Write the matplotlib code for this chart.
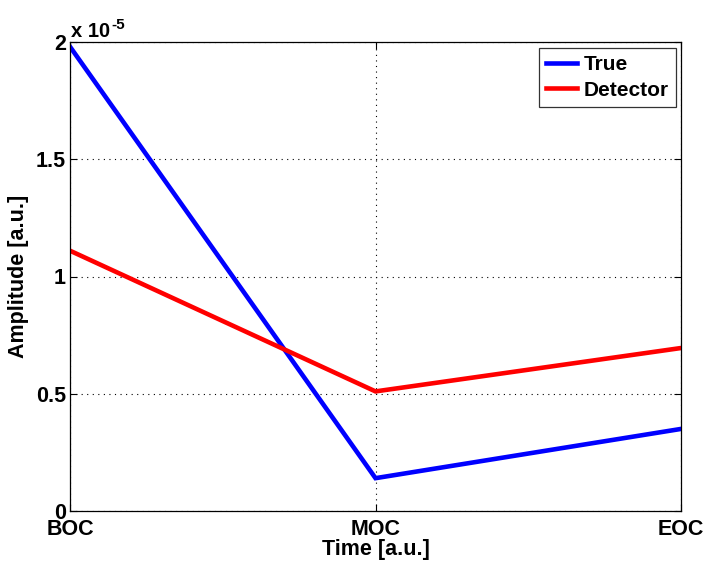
import matplotlib
matplotlib.use("Agg")
import matplotlib.pyplot as plt

# values in units of 1e-5
stages = ["BOC", "MOC", "EOC"]
true_amp = [1.98, 0.14, 0.35]
detector_amp = [1.11, 0.51, 0.695]
yticks = [0, 0.5, 1, 1.5, 2]
ytick_labels = ["0", "0.5", "1", "1.5", "2"]

plt.rcParams["font.family"] = ["Liberation Sans", "DejaVu Sans"]
plt.rcParams["font.weight"] = "bold"
FS = 15.5
W, H = 707, 568

fig = plt.figure(figsize=(W / 100, H / 100), dpi=100)
ax = fig.add_axes([70 / W, 57 / H, 611 / W, 469 / H])

x = list(range(len(stages)))
ax.plot(x, true_amp, color="#0000ff", lw=3.3, label="True", solid_joinstyle="miter")
ax.plot(x, detector_amp, color="#ff0000", lw=3.3, label="Detector", solid_joinstyle="miter")

ax.set_xlim(0, len(stages) - 1)
ax.set_ylim(0, 2)
ax.set_xticks(x)
ax.set_xticklabels(stages, fontsize=FS, fontweight="bold")
ax.set_yticks(yticks)
ax.set_yticklabels(ytick_labels, fontsize=FS, fontweight="bold")
ax.tick_params(direction="in", length=5, width=0.8)
ax.tick_params(axis="x", pad=6)
ax.tick_params(axis="y", pad=3)
ax.tick_params(top=True, right=True)
ax.grid(True, color="black", linestyle=(0, (1, 4)), lw=0.8)
for s in ax.spines.values():
    s.set_linewidth(0.9)

ax.set_xlabel("Time [a.u.]", fontsize=FS, fontweight="bold", labelpad=-1)
ax.set_ylabel("Amplitude [a.u.]", fontsize=FS, fontweight="bold", labelpad=5)

# MATLAB-style exponent label above the y axis
t1 = fig.text(71 / W, 1 - 37 / H, "x 10", fontsize=14.5, fontweight="bold",
              ha="left", va="baseline")
fig.canvas.draw()
x_end = t1.get_window_extent().x1
fig.text((x_end + 1) / W, 1 - 29 / H, "-5", fontsize=11, fontweight="bold",
         ha="left", va="baseline")

leg = ax.legend(loc="upper right", fontsize=15, handlelength=1.5, handletextpad=0.3,
                borderpad=0.35, labelspacing=0.3, fancybox=False,
                bbox_to_anchor=(0.992, 0.987), borderaxespad=0)
leg.get_frame().set_edgecolor("black")
leg.get_frame().set_linewidth(0.9)
for t in leg.get_texts():
    t.set_fontweight("bold")

fig.savefig("out.png", dpi=100)
